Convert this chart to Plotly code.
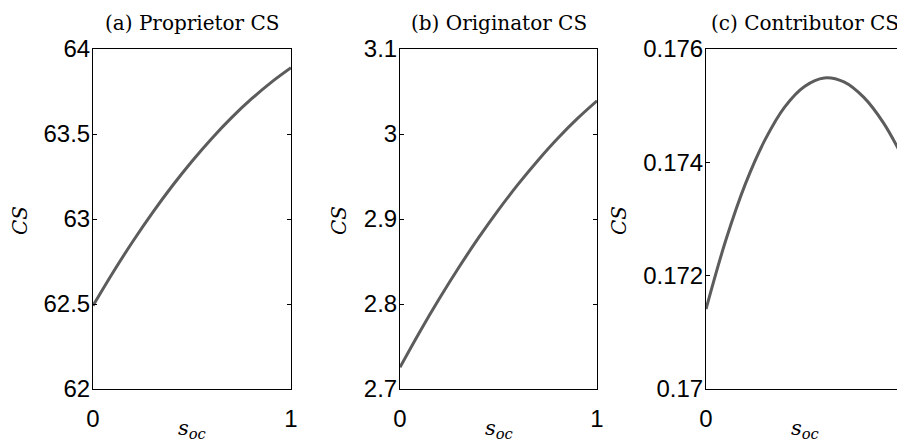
import plotly.graph_objects as go

s_oc = [0.0, 0.1, 0.2, 0.3, 0.4, 0.5, 0.6, 0.7, 0.8, 0.9, 1.0]
proprietor_cs = [62.490, 62.684, 62.866, 63.036, 63.194, 63.340, 63.474, 63.596, 63.706, 63.804, 63.890]
originator_cs = [2.7255, 2.7671, 2.8064, 2.8435, 2.8783, 2.9108, 2.9410, 2.9689, 2.9947, 3.0180, 3.0390]
contributor_cs = [0.17141, 0.17262, 0.17362, 0.17440, 0.17498, 0.17534, 0.17549, 0.17542, 0.17515, 0.17470, 0.17408]

titles = ["(a) Proprietor CS", "(b) Originator CS", "(c) Contributor CS"]
y_ranges = [[62, 64], [2.7, 3.1], [0.17, 0.176]]
y_tickvals = [[62, 62.5, 63, 63.5, 64], [2.7, 2.8, 2.9, 3.0, 3.1], [0.170, 0.172, 0.174, 0.176]]
y_ticktext = [["62", "62.5", "63", "63.5", "64"], ["2.7", "2.8", "2.9", "3", "3.1"], ["0.17", "0.172", "0.174", "0.176"]]
x_tickvals = [0, 1]
x_ticktext = ["0", "1"]

# page body has an 8px margin; figure is sized to fill the rest of the window
OFF = 8
W, H = 905 - OFF, 444 - OFF
x_dom_px = [(93, 291), (400, 597), (706, 903)]
y_dom_px = (49, 389)
ylabel_x_px = [20, 339, 619]


def px_x(v):
    return (v - OFF) / W


def px_y(v):
    return 1 - (v - OFF) / H


series = [proprietor_cs, originator_cs, contributor_cs]

fig = go.Figure()
line_color = "#5c5c5c"
tick_font = dict(family="Liberation Sans, Arial, sans-serif", size=24, color="black")
serif = "DejaVu Serif, serif"

ydom = [px_y(y_dom_px[1]), px_y(y_dom_px[0])]
layout = {}
annotations = []
for i in range(3):
    n = "" if i == 0 else str(i + 1)
    xdom = [px_x(x_dom_px[i][0]), px_x(x_dom_px[i][1])]
    fig.add_trace(go.Scatter(
        x=s_oc, y=series[i], mode="lines",
        line=dict(color=line_color, width=3, shape="spline"),
        xaxis="x" + n, yaxis="y" + n, showlegend=False,
    ))
    layout["xaxis" + n] = dict(
        domain=xdom, range=[0, 1], anchor="y" + n, automargin=False,
        tickvals=x_tickvals, ticktext=x_ticktext,
        ticks="inside", ticklen=4, tickcolor="black",
        showline=True, linecolor="black", linewidth=1, mirror="ticks",
        showgrid=False, zeroline=False, tickfont=tick_font,
        ticklabelstandoff=8, ticklabeloverflow="allow",
    )
    layout["yaxis" + n] = dict(
        domain=ydom, range=y_ranges[i], anchor="x" + n, automargin=False,
        tickvals=y_tickvals[i], ticktext=y_ticktext[i],
        ticks="inside", ticklen=4, tickcolor="black",
        showline=True, linecolor="black", linewidth=1, mirror="ticks",
        showgrid=False, zeroline=False, tickfont=tick_font,
        ticklabelstandoff=-3, ticklabeloverflow="allow",
    )
    xc = (xdom[0] + xdom[1]) / 2
    annotations.append(dict(
        text=titles[i], x=xc, y=px_y(23), xref="paper", yref="paper",
        xanchor="center", yanchor="middle", showarrow=False,
        font=dict(family=serif, size=20, color="black"),
    ))
    annotations.append(dict(
        text="<i>CS</i>", x=px_x(ylabel_x_px[i]), y=px_y(221), xref="paper", yref="paper",
        xanchor="center", yanchor="middle", showarrow=False, textangle=-90,
        font=dict(family=serif, size=20, color="black"),
    ))
    annotations.append(dict(
        text="<i>s</i><sub><i>oc</i></sub>", x=xc, y=px_y(429), xref="paper", yref="paper",
        xanchor="center", yanchor="middle", showarrow=False,
        font=dict(family=serif, size=21, color="black"),
    ))

fig.update_layout(
    template="none",
    width=W, height=H,
    margin=dict(l=0, r=0, t=0, b=0),
    paper_bgcolor="white", plot_bgcolor="white",
    annotations=annotations,
    **layout,
)

fig.write_html("out.html")
